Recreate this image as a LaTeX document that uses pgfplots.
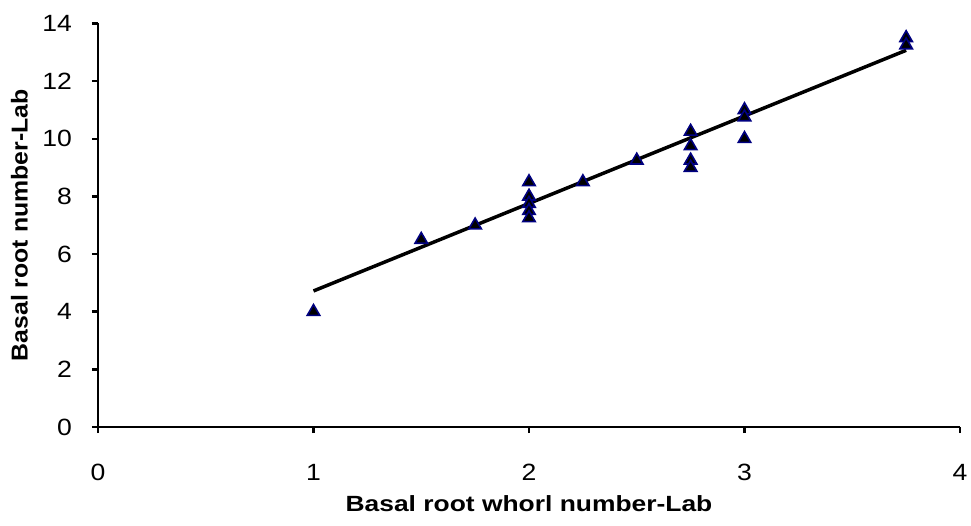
\documentclass[border=0pt]{standalone}
\usepackage{pgfplots}
\pgfplotsset{compat=1.18}
\usepackage{fontspec}
\setmainfont{Liberation Sans}
\newfontfamily\tickfont[FakeStretch=1.13]{Liberation Sans}
\newfontfamily\xlabfont[FakeStretch=1.2]{Liberation Sans}
\newfontfamily\ylabfont[FakeStretch=1.08]{Liberation Sans}
\begin{document}
\begin{tikzpicture}
\begin{axis}[
  scale only axis, width=862pt, height=403.5pt,
  xmin=0, xmax=4, ymin=0, ymax=14,
  xtick={0,1,2,3,4}, ytick={0,2,...,14},
  axis x line*=bottom, axis y line*=left,
  axis line style={line width=2.5pt, -},
  xtick pos=bottom, ytick pos=left,
  tick align=outside, tickwidth=6pt,
  every tick/.style={line width=2.5pt, black},
  /pgf/number format/assume math mode=true,
  tick label style={font=\tickfont\fontsize{23.5}{25}\selectfont, inner sep=0pt},
  xticklabel style={anchor=north, yshift=-31pt},
  yticklabel style={anchor=east, xshift=-20pt},
  xlabel={Basal root whorl number-Lab},
  ylabel={Basal root number-Lab},
  xlabel style={font=\xlabfont\bfseries\fontsize{22}{24}\selectfont, at={(axis description cs:0.5,0)}, anchor=north, inner sep=0pt, yshift=-68pt},
  ylabel style={font=\ylabfont\bfseries\fontsize{23}{24}\selectfont, at={(axis description cs:0,0.5)}, anchor=south, inner sep=0pt, rotate=0, yshift=70pt},
  clip=false,
]
\addplot[no markers, line width=3.5pt, black] coordinates {(1,4.72) (3.75,13.07)};
\addplot[only marks, mark=triangle*, mark size=7.2pt, mark options={fill=black, draw={rgb,255:red,0;green,0;blue,128}, line width=1.6pt}] coordinates {
(1,4) (1.5,6.5) (1.75,7) (2,8.5) (2,8) (2,7.75) (2,7.5) (2,7.25) (2.25,8.5) (2.5,9.25)
(2.75,10.25) (2.75,9.75) (2.75,9.25) (2.75,9) (3,11) (3,10.75) (3,10) (3.75,13.5) (3.75,13.25)};
\end{axis}
\pgfresetboundingbox
\path ([xshift=-98pt,yshift=-98pt]current axis.south west) rectangle ([xshift=11pt,yshift=23.5pt]current axis.north east);
\end{tikzpicture}
\end{document}
